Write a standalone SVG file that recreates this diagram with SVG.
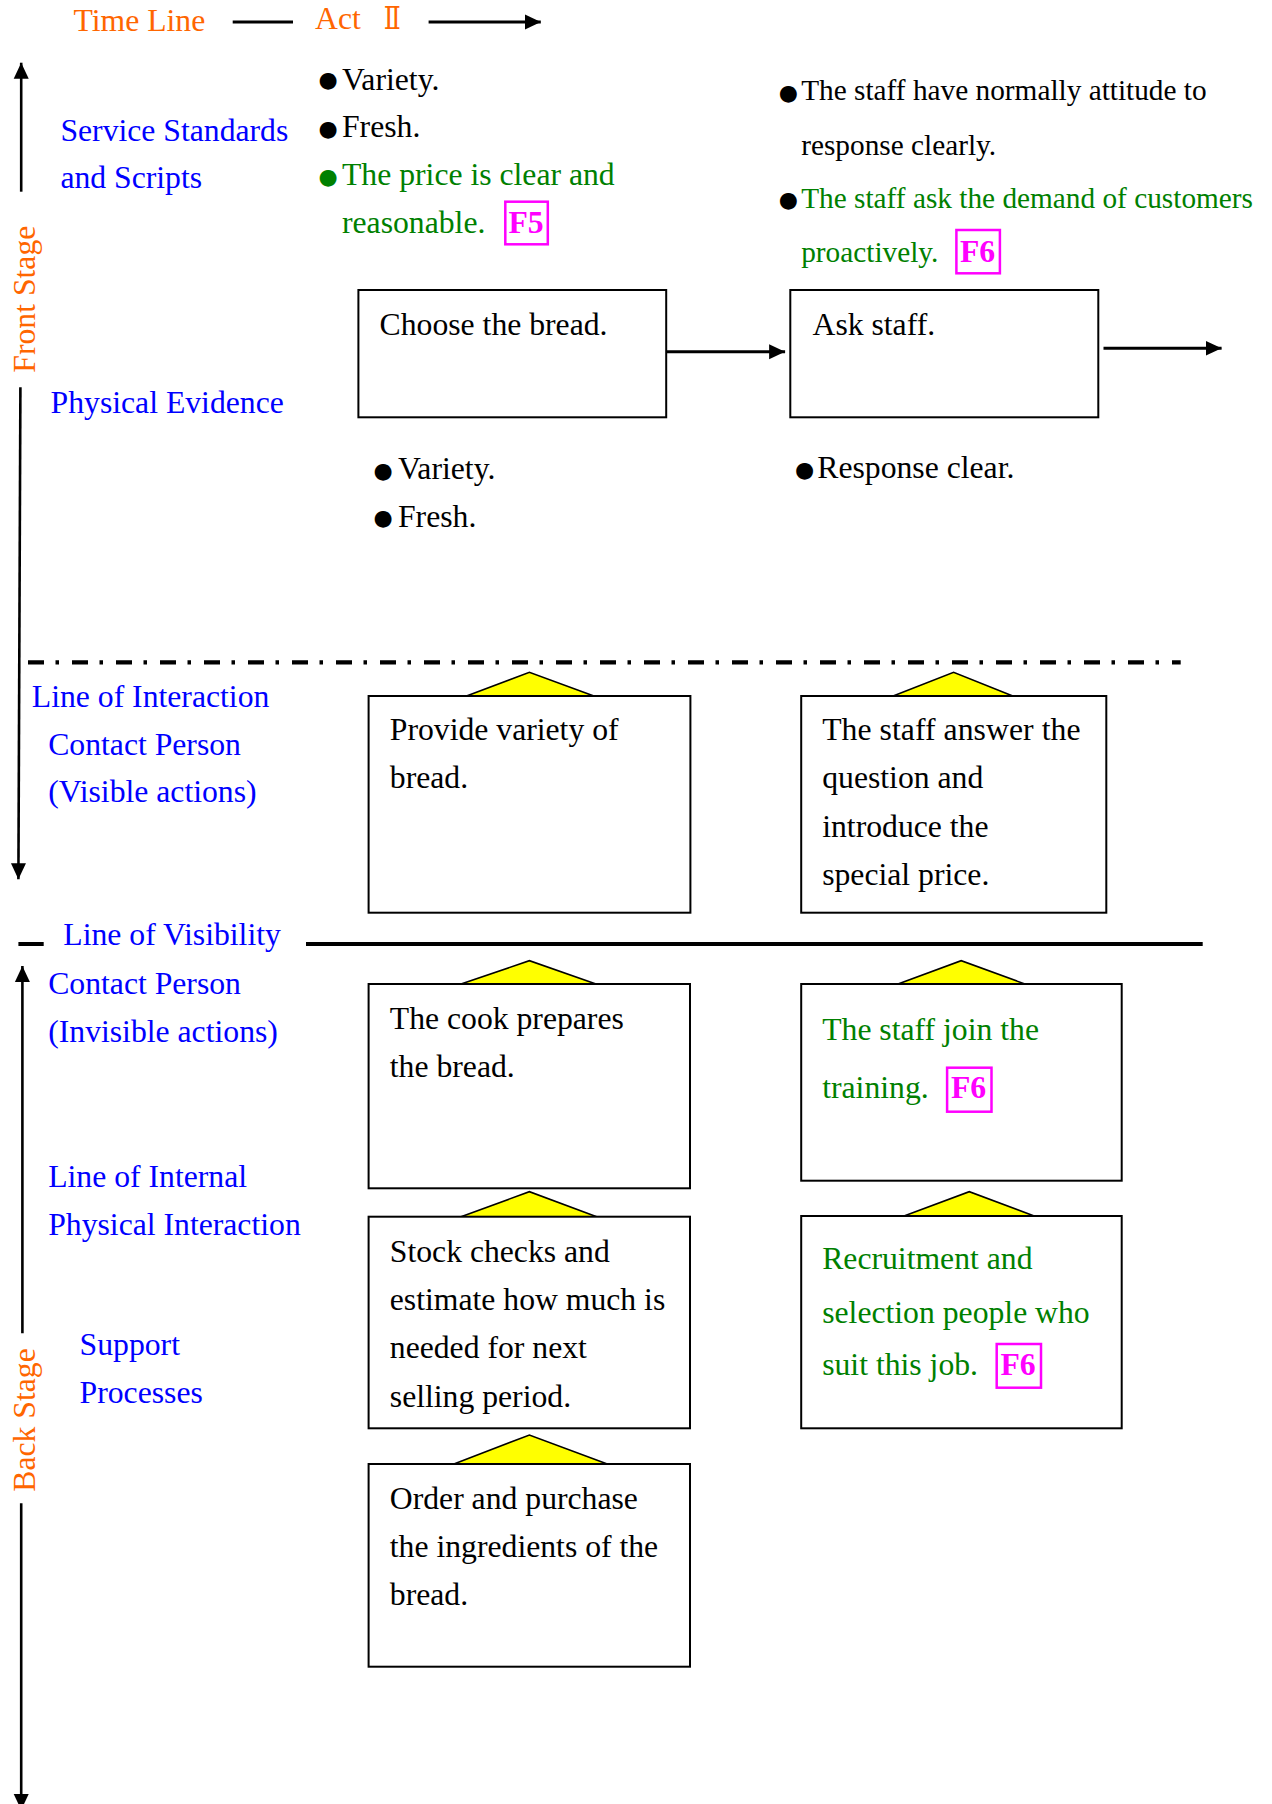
<svg xmlns="http://www.w3.org/2000/svg" width="1272" height="1804" viewBox="0 0 1272 1804">
<style>
.t{font-family:"Liberation Serif","Times New Roman",serif;font-size:31.7px;fill:#000}
.s{font-size:29.3px}
.b{fill:#0000FF}
.o{fill:#FF6600}
.g{fill:#008000}
.m{fill:#FF00FF;font-weight:bold}
.box{fill:#fff;stroke:#000;stroke-width:2}
.tri{fill:#FFFF00;stroke:#000;stroke-width:1.6;stroke-linejoin:miter}
.fb{fill:none;stroke:#FF00FF;stroke-width:2.5}
.ln{fill:none;stroke:#000;stroke-width:3}
.ax{fill:none;stroke:#000;stroke-width:2.6}
.bul{font-family:"DejaVu Sans",sans-serif;font-size:22px;text-anchor:middle;dominant-baseline:central}
</style>
<defs>
<marker id="ah" markerUnits="userSpaceOnUse" markerWidth="16" markerHeight="16" viewBox="0 0 16 16" refX="16" refY="8" orient="auto">
<path d="M0,0.5 L16,8 L0,15.5 z" fill="#000"/>
</marker>
</defs>
<rect width="1272" height="1804" fill="#fff"/>

<g id="connectors">
<line class="ln" x1="232.7" y1="22" x2="293" y2="22"/>
<line class="ln" x1="428.6" y1="22" x2="540.8" y2="22" marker-end="url(#ah)"/>
<line class="ax" x1="21.2" y1="191.7" x2="21.2" y2="62.7" marker-end="url(#ah)"/>
<line class="ax" x1="20.4" y1="387.3" x2="18.4" y2="879.3" marker-end="url(#ah)"/>
<line class="ax" x1="22.4" y1="1333.3" x2="22.4" y2="966" marker-end="url(#ah)"/>
<line class="ax" x1="21.2" y1="1503.3" x2="21.2" y2="1810" marker-end="url(#ah)"/>
<line class="ln" x1="666.2" y1="351.7" x2="785.1" y2="351.7" marker-end="url(#ah)"/>
<line class="ln" x1="1103.5" y1="348.3" x2="1221.6" y2="348.3" marker-end="url(#ah)"/>
<line x1="28" y1="662.3" x2="1180.7" y2="662.3" stroke="#000" stroke-width="4.2" stroke-dasharray="16 11.5 3.5 13"/>
<line x1="18.4" y1="944" x2="43.7" y2="944" stroke="#000" stroke-width="4"/>
<line x1="306" y1="944" x2="1202.7" y2="944" stroke="#000" stroke-width="4"/>
<polygon class="tri" points="466.5,696 529.4,672.3 593.9,696"/>
<polygon class="tri" points="893.1,696 953.6,672.3 1012.8,696"/>
<polygon class="tri" points="461,984 529.4,960.7 596,984"/>
<polygon class="tri" points="898,984 961.2,960.7 1024.9,984"/>
<polygon class="tri" points="461,1216.7 529.4,1191.7 596.7,1216.7"/>
<polygon class="tri" points="904,1216 969.3,1191.7 1034.2,1216"/>
<polygon class="tri" points="453.9,1464 529.4,1435 607.3,1464"/>
</g>

<g id="labels">
<text class="t o" x="73.5" y="30.7">Time Line</text>
<text class="t o" x="315" y="29.3">Act</text>
<text class="t o" x="383.7" y="29.3" textLength="17" lengthAdjust="spacingAndGlyphs" style="font-family:'DejaVu Serif','Noto Sans CJK SC',serif">Ⅱ</text>
<text class="t o" transform="translate(35,372.7) rotate(-90)">Front Stage</text>
<text class="t o" transform="translate(35,1491.7) rotate(-90)">Back Stage</text>
<text class="t b" x="60.4" y="140.7">Service Standards</text>
<text class="t b" x="60.4" y="188.3">and Scripts</text>
<text class="t b" x="50.6" y="412.7">Physical Evidence</text>
<text class="t b" x="31.8" y="706.7">Line of Interaction</text>
<text class="t b" x="48.2" y="755">Contact Person</text>
<text class="t b" x="48.2" y="802.3">(Visible actions)</text>
<text class="t b" x="63.3" y="945">Line of Visibility</text>
<text class="t b" x="48.2" y="994">Contact Person</text>
<text class="t b" x="48.2" y="1041.7">(Invisible actions)</text>
<text class="t b" x="48.2" y="1186.7">Line of Internal</text>
<text class="t b" x="48.2" y="1235">Physical Interaction</text>
<text class="t b" x="79.6" y="1355">Support</text>
<text class="t b" x="79.6" y="1402.7">Processes</text>
</g>

<g id="standards-1">
<text class="bul" x="328" y="79.5">●</text>
<text class="t" x="342" y="90">Variety.</text>
<text class="bul" x="328" y="128.3">●</text>
<text class="t" x="342" y="137.3">Fresh.</text>
<text class="bul g" x="328" y="176">●</text>
<text class="t g" x="342" y="185">The price is clear and</text>
<text class="t g" x="342" y="233.3">reasonable.</text>
<rect class="fb" x="505.3" y="201.7" width="42.5" height="42.6"/>
<text class="t m" x="508.5" y="233">F5</text>
</g>

<g id="standards-2">
<text class="bul" x="788.4" y="92.5">●</text>
<text class="t s" x="801.2" y="100">The staff have normally attitude to</text>
<text class="t s" x="801.2" y="155">response clearly.</text>
<text class="bul" x="788.4" y="199.7">●</text>
<text class="t s g" x="801.2" y="208.3">The staff ask the demand of customers</text>
<text class="t s g" x="801.2" y="261.7">proactively.</text>
<rect class="fb" x="956.4" y="230" width="43.5" height="43.3"/>
<text class="t m" x="960" y="261.5">F6</text>
</g>

<g id="evidence-1">
<text class="bul" x="383" y="470">●</text>
<text class="t" x="398" y="479.3">Variety.</text>
<text class="bul" x="383" y="517">●</text>
<text class="t" x="398" y="526.7">Fresh.</text>
</g>

<g id="evidence-2">
<text class="bul" x="804.5" y="469">●</text>
<text class="t" x="817.3" y="478.3">Response clear.</text>
</g>

<g id="choose-bread">
<rect class="box" x="358.4" y="290" width="307.8" height="127.3"/>
<text class="t" x="379.6" y="335">Choose the bread.</text>
</g>

<g id="ask-staff">
<rect class="box" x="790.3" y="290" width="308" height="127.3"/>
<text class="t" x="812.5" y="335">Ask staff.</text>
</g>

<g id="provide-variety">
<rect class="box" x="368.6" y="696" width="321.8" height="216.7"/>
<text class="t" x="389.8" y="740">Provide variety of</text>
<text class="t" x="389.8" y="788.3">bread.</text>
</g>

<g id="staff-answer">
<rect class="box" x="801.2" y="696" width="305.1" height="216.7"/>
<text class="t" x="822.2" y="740" textLength="258.3" lengthAdjust="spacing">The staff answer the</text>
<text class="t" x="822.2" y="788.3">question and</text>
<text class="t" x="822.2" y="836.7">introduce the</text>
<text class="t" x="822.2" y="885">special price.</text>
</g>

<g id="cook-prepares">
<rect class="box" x="368.6" y="984" width="321.4" height="204.3"/>
<text class="t" x="389.8" y="1029.3">The cook prepares</text>
<text class="t" x="389.8" y="1076.7">the bread.</text>
</g>

<g id="staff-training">
<rect class="box" x="801.2" y="984" width="320.5" height="196.7"/>
<text class="t g" x="822.2" y="1040">The staff join the</text>
<text class="t g" x="822.2" y="1098.3">training.</text>
<rect class="fb" x="947.1" y="1067.7" width="44.4" height="44"/>
<text class="t m" x="951" y="1098">F6</text>
</g>

<g id="stock-checks">
<rect class="box" x="368.6" y="1216.7" width="321.4" height="211.6"/>
<text class="t" x="389.8" y="1261.7">Stock checks and</text>
<text class="t" x="389.8" y="1310">estimate how much is</text>
<text class="t" x="389.8" y="1358.3">needed for next</text>
<text class="t" x="389.8" y="1406.7">selling period.</text>
</g>

<g id="recruitment">
<rect class="box" x="801.2" y="1216" width="320.5" height="212.3"/>
<text class="t g" x="822.2" y="1269.3">Recruitment and</text>
<text class="t g" x="822.2" y="1323.3">selection people who</text>
<text class="t g" x="822.2" y="1375">suit this job.</text>
<rect class="fb" x="996.7" y="1344" width="44.3" height="43.7"/>
<text class="t m" x="1000.5" y="1375">F6</text>
</g>

<g id="order-purchase">
<rect class="box" x="368.6" y="1464" width="321.4" height="202.7"/>
<text class="t" x="389.8" y="1509.3">Order and purchase</text>
<text class="t" x="389.8" y="1556.7">the ingredients of the</text>
<text class="t" x="389.8" y="1605">bread.</text>
</g>
</svg>
